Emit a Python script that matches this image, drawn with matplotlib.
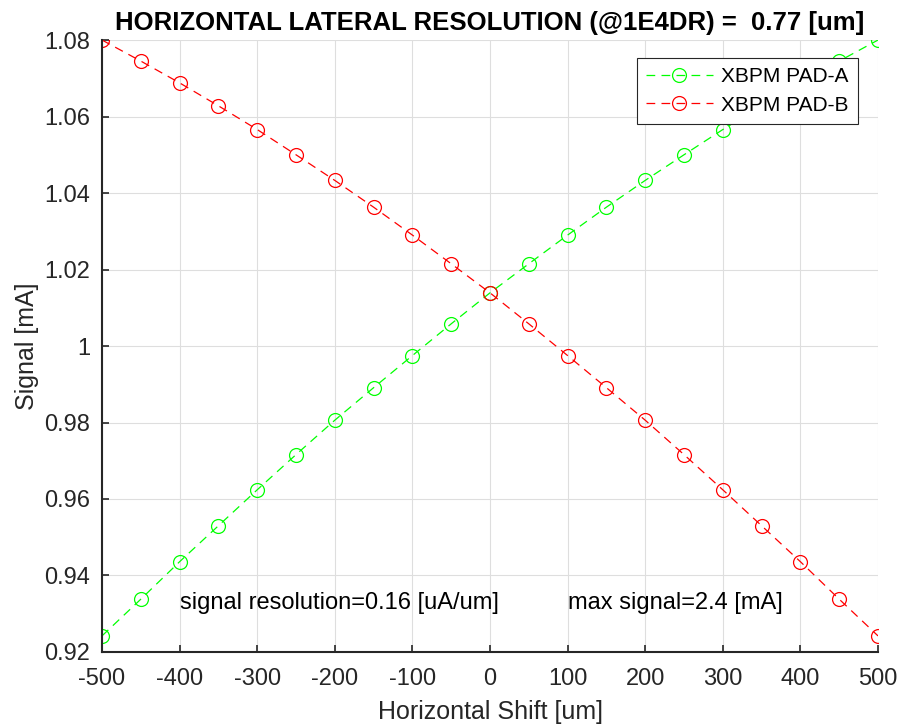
import matplotlib.pyplot as plt

plt.rcParams['font.family'] = ['Liberation Sans', 'DejaVu Sans']
plt.rcParams['axes.unicode_minus'] = False

shift = [-500, -450, -400, -350, -300, -250, -200, -150, -100, -50, 0,
         50, 100, 150, 200, 250, 300, 350, 400, 450, 500]
pad_a = [0.9242, 0.9338, 0.9436, 0.9530, 0.9624, 0.9716, 0.9806, 0.9891, 0.9975, 1.0058, 1.0139,
         1.0215, 1.0290, 1.0363, 1.0433, 1.0500, 1.0566, 1.0628, 1.0688, 1.0745, 1.0800]
pad_b = pad_a[::-1]

title = 'HORIZONTAL LATERAL RESOLUTION (@1E4DR) =  0.77 [um]'
note_res = 'signal resolution=0.16 [uA/um]'
note_max = 'max signal=2.4 [mA]'

fig = plt.figure(figsize=(9, 7.25), dpi=100)
ax = fig.add_axes([0.1133, 0.1007, 0.8623, 0.8441])

ax.plot(shift, pad_a, color='#00ff00', ls=(0, (7, 5)), lw=0.9, marker='o', ms=10,
        mfc='none', mec='#00ff00', mew=0.9, label='XBPM PAD-A')
ax.plot(shift, pad_b, color='#ff0000', ls=(0, (7, 5)), lw=0.9, marker='o', ms=10,
        mfc='none', mec='#ff0000', mew=0.9, label='XBPM PAD-B')

ax.set_xlim(-500, 500)
ax.set_ylim(0.92, 1.08)
ax.set_xticks(range(-500, 501, 100))
ax.set_yticks([0.92, 0.94, 0.96, 0.98, 1.0, 1.02, 1.04, 1.06, 1.08])
ax.set_yticklabels(['0.92', '0.94', '0.96', '0.98', '1', '1.02', '1.04', '1.06', '1.08'])
ax.grid(True, color='#dedede', lw=0.8)
ax.set_axisbelow(True)
for s in ['top', 'right']:
    ax.spines[s].set_visible(False)
for s in ['left', 'bottom']:
    ax.spines[s].set_color('#262626')
    ax.spines[s].set_linewidth(1.5)
ax.tick_params(direction='in', length=5, width=1.2, colors='#262626', labelsize=17)
ax.tick_params(axis='x', pad=11.5)
ax.tick_params(axis='y', pad=8.5)
for lab in ax.get_xticklabels() + ax.get_yticklabels():
    lab.set_color('#262626')

ax.set_xlabel('Horizontal Shift [um]', fontsize=18, color='#262626', labelpad=7.5)
ax.set_ylabel('Signal [mA]', fontsize=18, color='#262626', labelpad=4)
ax.set_title(title, fontsize=18.5, fontweight='bold', pad=7)

ax.text(-400, 0.9328, note_res, fontsize=17, va='center', ha='left')
ax.text(100, 0.9328, note_max, fontsize=17, va='center', ha='left')

leg = ax.legend(loc='upper right', bbox_to_anchor=(0.974, 0.9706), fontsize=15, fancybox=False,
                framealpha=1, edgecolor='#262626', handlelength=3.2, borderpad=0.45,
                labelspacing=0.45, handletextpad=0.4, borderaxespad=0)
leg.get_frame().set_linewidth(0.8)

fig.savefig('out.png', dpi=100)
